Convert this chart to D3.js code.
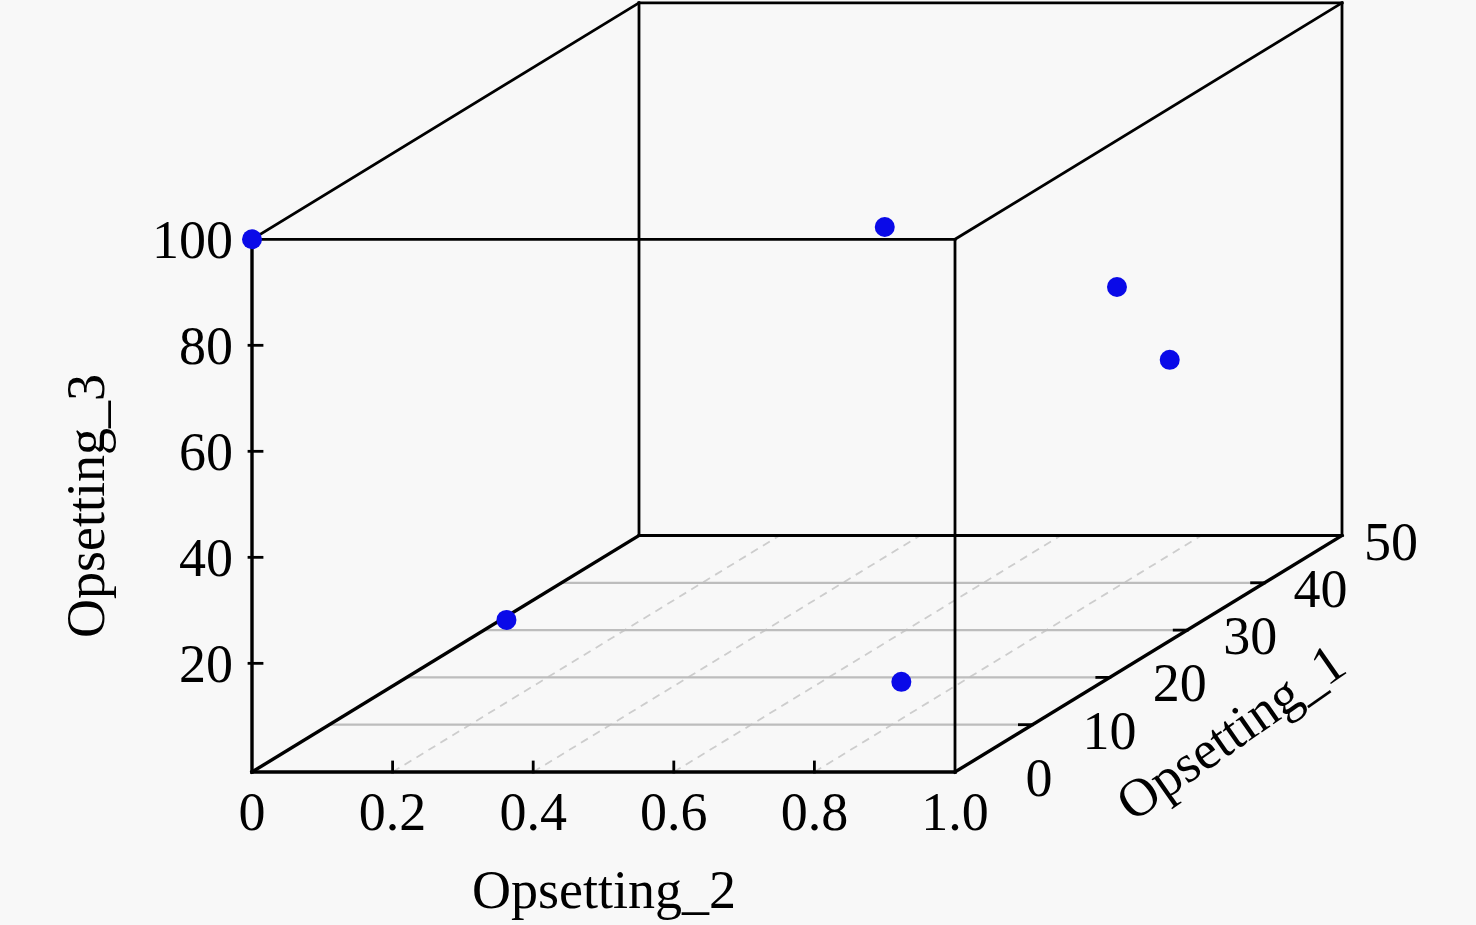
<!DOCTYPE html>
<html>
<head>
<meta charset="utf-8">
<script src="https://cdn.jsdelivr.net/npm/d3@7"></script>
<style>
html,body{margin:0;padding:0;background:#f8f8f8;}
svg{display:block;}
text{font-family:"Liberation Serif","Times New Roman",serif;fill:#000;}
</style>
</head>
<body>
<svg id="chart" width="1476" height="925"></svg>
<script>
// ---- data ----
const opsetting2 = [0, 0.79, 0.79, 0.81, 0.014, 0.72];   // x (front axis)
const opsetting1 = [0, 10, 40, 45, 31.6, 18.5];         // depth axis
const opsetting3 = [100, 93.4, 55.3, 37.1, 0, 0];       // vertical axis

const xTicks = [0, 0.2, 0.4, 0.6, 0.8, 1.0];
const xTickLabels = ["0", "0.2", "0.4", "0.6", "0.8", "1.0"];
const zTicks = [20, 40, 60, 80, 100];
const zTickLabels = ["20", "40", "60", "80", "100"];
const dTicks = [0, 10, 20, 30, 40, 50];
const dTickLabels = ["0", "10", "20", "30", "40", "50"];
const xTitle = "Opsetting_2", dTitle = "Opsetting_1", zTitle = "Opsetting_3";

// ---- projection ----
const svg = d3.select("#chart");
const ox = 252, oy = 772;
const xS = d3.scaleLinear().domain([0, 1]).range([0, 703]);
const dS = d3.scaleLinear().domain([0, 50]).range([0, 1]);
const zS = d3.scaleLinear().domain([-0.5, 100]).range([0, 532.7]);
const DX = 387, DY = 236.5;
function P(x, d, z) {
  const f = dS(d);
  return [ox + xS(x) + f * DX, oy - zS(z) - f * DY];
}
const [x0, x1] = xS.domain(), [d0, d1] = dS.domain();
const z0 = zS.domain()[0], z1 = 100;

function line(a, b, w, col, dash) {
  const l = svg.append("line")
    .attr("x1", a[0]).attr("y1", a[1]).attr("x2", b[0]).attr("y2", b[1])
    .attr("stroke", col || "#000").attr("stroke-width", w || 2.5)
    .attr("stroke-linecap", "square");
  if (dash) l.attr("stroke-dasharray", dash).attr("stroke-linecap", "butt");
  return l;
}

// floor grid: x lines (dashed) and depth lines (solid light)
xTicks.filter(v => v > x0 && v < x1).forEach(v => {
  line(P(v, d0, z0), P(v, d1, z0), 1.8, "#cdcdcd", "8,6");
});
dTicks.filter(v => v > d0 && v < d1).forEach(v => {
  line(P(x0, v, z0), P(x1, v, z0), 2.2, "#bdbdbd");
});

// back face + box edges
const W = 2.8, WB = 3.4;
line(P(x0, d1, z0), P(x0, d1, z1), W);
line(P(x1, d1, z0), P(x1, d1, z1), W);
line(P(x0, d1, z1), P(x1, d1, z1), W);
line(P(x0, d1, z0), P(x1, d1, z0), W);
line(P(x0, d0, z1), P(x0, d1, z1), W);
line(P(x1, d0, z1), P(x1, d1, z1), W);
line(P(x0, d0, z0), P(x0, d1, z0), WB);
line(P(x1, d0, z0), P(x1, d1, z0), WB);
// front face
line(P(x0, d0, z0), P(x1, d0, z0), WB);
line(P(x0, d0, z0), P(x0, d0, z1), WB);
line(P(x0, d0, z1), P(x1, d0, z1), W);
line(P(x1, d0, z0), P(x1, d0, z1), W);

// ticks
xTicks.filter(v => v > x0 && v < x1).forEach(v => {
  const p = P(v, d0, z0);
  line(p, [p[0], p[1] - 10], W);
});
zTicks.filter(v => v < z1).forEach(v => {
  const p = P(x0, d0, v);
  line([p[0] - 3, p[1]], [p[0] + 10, p[1]], W);
});
dTicks.filter(v => v > d0 && v < d1).forEach(v => {
  const p = P(x1, v, z0);
  line([p[0] - 13, p[1]], [p[0], p[1]], W);
});

// tick labels
const FS = 54;
xTicks.forEach((v, i) => {
  const p = P(v, d0, z0);
  svg.append("text").attr("x", p[0]).attr("y", 830)
    .attr("text-anchor", "middle").attr("font-size", FS).text(xTickLabels[i]);
});
zTicks.forEach((v, i) => {
  const p = P(x0, d0, v);
  svg.append("text").attr("x", p[0] - 19).attr("y", p[1]).attr("dy", "0.35em")
    .attr("text-anchor", "end").attr("font-size", FS).text(zTickLabels[i]);
});
dTicks.forEach((v, i) => {
  const p = P(x1, v, z0);
  svg.append("text").attr("x", p[0] + 84 - 0.7 * v).attr("y", p[1] + 24)
    .attr("text-anchor", "middle").attr("font-size", FS).text(dTickLabels[i]);
});

// axis titles
svg.append("text").attr("x", 604).attr("y", 908)
  .attr("text-anchor", "middle").attr("font-size", FS).text(xTitle);
svg.append("text").attr("transform", "translate(104,506) rotate(-90)")
  .attr("text-anchor", "middle").attr("font-size", FS).text(zTitle);
svg.append("text").attr("transform", "translate(1241,747) rotate(-35)")
  .attr("text-anchor", "middle").attr("font-size", FS).text(dTitle);

// points
svg.append("g").selectAll("circle").data(opsetting2).join("circle")
  .attr("cx", (v, i) => P(v, opsetting1[i], opsetting3[i])[0])
  .attr("cy", (v, i) => P(v, opsetting1[i], opsetting3[i])[1])
  .attr("r", 10).attr("fill", "#0a0ae8");
</script>
</body>
</html>
